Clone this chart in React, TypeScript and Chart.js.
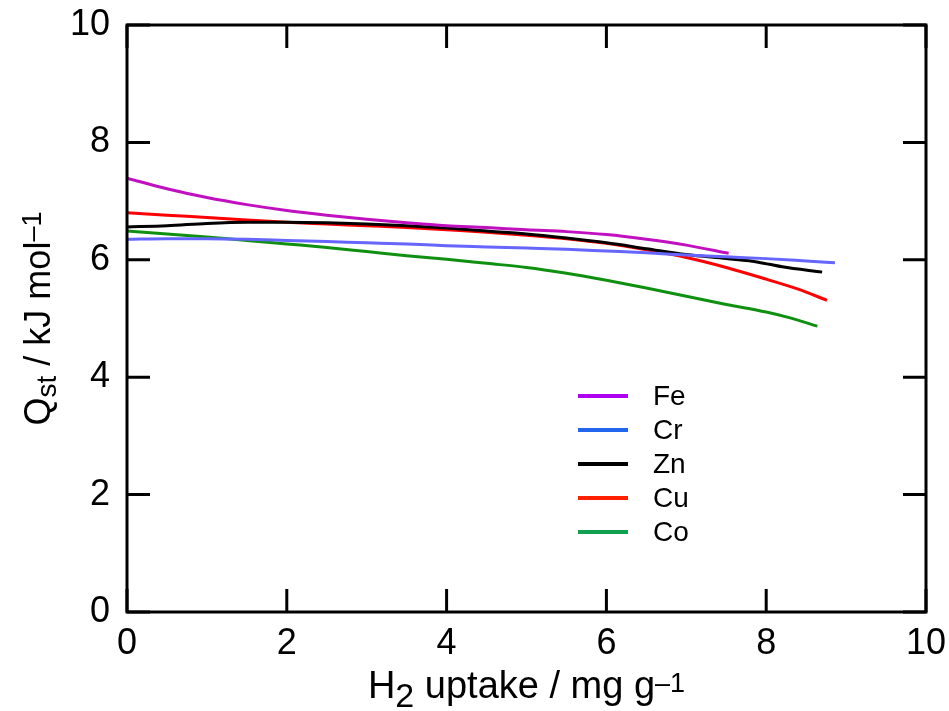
import React, { useEffect, useRef } from 'react';
import { Chart, registerables } from 'chart.js';

Chart.register(...registerables);

const seriesNames = ['Fe', 'Cr', 'Zn', 'Cu', 'Co'];

const feX = [0, 0.5, 1, 1.5, 2, 2.5, 3, 3.5, 4, 4.5, 5, 5.5, 6, 6.5, 7, 7.53];
const feY = [7.39, 7.21, 7.06, 6.94, 6.84, 6.76, 6.69, 6.63, 6.58, 6.55, 6.51, 6.48, 6.43, 6.35, 6.25, 6.11];

const crX = [0, 0.5, 1, 1.5, 2, 2.5, 3, 3.5, 4, 4.5, 5, 5.5, 6, 6.5, 7, 7.5, 8, 8.5, 8.86];
const crY = [6.35, 6.36, 6.36, 6.35, 6.33, 6.31, 6.29, 6.27, 6.24, 6.22, 6.2, 6.18, 6.15, 6.12, 6.08, 6.05, 6.02, 5.98, 5.95];

const znX = [0, 0.5, 1, 1.5, 2, 2.5, 3, 3.5, 4, 4.5, 5, 5.5, 6, 6.5, 7, 7.5, 7.9, 8.2, 8.7];
const znY = [6.56, 6.58, 6.62, 6.64, 6.64, 6.63, 6.61, 6.58, 6.54, 6.49, 6.44, 6.37, 6.29, 6.19, 6.09, 6.02, 5.96, 5.88, 5.79];

const cuX = [0, 0.5, 1, 1.5, 2, 2.5, 3, 3.5, 4, 4.5, 5, 5.5, 6, 6.5, 7, 7.5, 8, 8.4, 8.76];
const cuY = [6.8, 6.76, 6.72, 6.68, 6.64, 6.61, 6.58, 6.55, 6.51, 6.47, 6.42, 6.36, 6.28, 6.17, 6.04, 5.87, 5.67, 5.5, 5.31];

const coX = [0, 0.5, 1, 1.5, 2, 2.5, 3, 3.5, 4, 4.5, 5, 5.5, 6, 6.5, 7, 7.5, 8, 8.3, 8.64];
const coY = [6.49, 6.44, 6.39, 6.33, 6.27, 6.21, 6.14, 6.07, 6.01, 5.94, 5.87, 5.77, 5.65, 5.52, 5.38, 5.24, 5.11, 5.01, 4.87];

const xTicks = [0, 2, 4, 6, 8, 10];
const yTicks = [0, 2, 4, 6, 8, 10];

const lineColors = ['#c010c0', '#6666ff', '#000000', '#ff0000', '#109010'];
const legendColors = ['#b000f0', '#2266ee', '#000000', '#ff2000', '#10a050'];

const FONT = '"Liberation Sans", Arial, sans-serif';

type Run = { text: string; size: number; dy: number };

function drawRuns(ctx: CanvasRenderingContext2D, runs: Run[], cx: number, baseY: number) {
  let total = 0;
  const widths = runs.map((r) => {
    ctx.font = `${r.size}px ${FONT}`;
    const w = ctx.measureText(r.text).width;
    total += w;
    return w;
  });
  let x = cx - total / 2;
  ctx.textAlign = 'left';
  ctx.textBaseline = 'alphabetic';
  runs.forEach((r, i) => {
    ctx.font = `${r.size}px ${FONT}`;
    ctx.fillText(r.text, x, baseY + r.dy);
    x += widths[i];
  });
}

const framePlugin = {
  id: 'framePlugin',
  afterDatasetsDraw(chart: any) {
    const { ctx, chartArea: a, scales } = chart;
    ctx.save();
    ctx.strokeStyle = '#000';
    ctx.lineWidth = 3;
    ctx.lineCap = 'butt';
    ctx.strokeRect(a.left, a.top, a.right - a.left, a.bottom - a.top);
    const L = 23;
    ctx.beginPath();
    for (const v of xTicks) {
      const px = scales.x.getPixelForValue(v);
      ctx.moveTo(px, a.bottom);
      ctx.lineTo(px, a.bottom - L);
      ctx.moveTo(px, a.top);
      ctx.lineTo(px, a.top + L);
    }
    for (const v of yTicks) {
      const py = scales.y.getPixelForValue(v);
      ctx.moveTo(a.left, py);
      ctx.lineTo(a.left + L, py);
      ctx.moveTo(a.right, py);
      ctx.lineTo(a.right - L, py);
    }
    ctx.stroke();

    // legend
    const lx0 = 578;
    const lx1 = 628;
    const ly0 = 396;
    const step = 34;
    ctx.font = `28px ${FONT}`;
    ctx.textBaseline = 'middle';
    ctx.textAlign = 'left';
    seriesNames.forEach((name, i) => {
      const y = ly0 + i * step;
      ctx.strokeStyle = legendColors[i];
      ctx.lineWidth = 4;
      ctx.beginPath();
      ctx.moveTo(lx0, y);
      ctx.lineTo(lx1, y);
      ctx.stroke();
      ctx.fillStyle = '#000';
      ctx.fillText(name, 653, y + 1);
    });

    // axis titles
    ctx.fillStyle = '#000';
    const cx = (a.left + a.right) / 2;
    drawRuns(
      ctx,
      [
        { text: 'H', size: 38, dy: 0 },
        { text: '2', size: 34, dy: 9 },
        { text: ' uptake / mg g', size: 38, dy: 0 },
        { text: '\u20131', size: 27, dy: -6 },
      ],
      cx,
      698
    );
    ctx.save();
    ctx.translate(50, (a.top + a.bottom) / 2);
    ctx.rotate(-Math.PI / 2);
    drawRuns(
      ctx,
      [
        { text: 'Q', size: 36, dy: 0 },
        { text: 'st', size: 28, dy: 6 },
        { text: ' / kJ mol', size: 36, dy: 0 },
        { text: '\u20131', size: 27, dy: -9 },
      ],
      0,
      0
    );
    ctx.restore();
    ctx.restore();
  },
};

function toPoints(xs: number[], ys: number[]) {
  return xs.map((x, i) => ({ x, y: ys[i] }));
}

function zeroPad(s: any) {
  s.paddingTop = 0;
  s.paddingBottom = 0;
  s.paddingLeft = 0;
  s.paddingRight = 0;
}

export default function App() {
  const ref = useRef<HTMLCanvasElement | null>(null);
  useEffect(() => {
    if (!ref.current) return;
    const seriesX = [feX, crX, znX, cuX, coX];
    const seriesY = [feY, crY, znY, cuY, coY];
    const chart = new Chart(ref.current, {
      type: 'scatter',
      data: {
        datasets: seriesNames.map((name, i) => ({
          label: name,
          data: toPoints(seriesX[i], seriesY[i]),
          showLine: true,
          borderColor: lineColors[i],
          backgroundColor: lineColors[i],
          borderWidth: 3,
          pointRadius: 0,
          cubicInterpolationMode: 'monotone' as const,
        })),
      },
      options: {
        animation: false,
        responsive: false,
        devicePixelRatio: 1,
        layout: { padding: { top: 25, right: 23, left: 0, bottom: 0 } },
        plugins: { legend: { display: false }, tooltip: { enabled: false } },
        scales: {
          x: {
            type: 'linear',
            min: 0,
            max: 10,
            afterFit: (s: any) => {
              s.height = 99;
              zeroPad(s);
            },
            afterBuildTicks: (s: any) => {
              s.ticks = xTicks.map((v) => ({ value: v }));
            },
            ticks: { font: { size: 36, family: FONT }, color: '#000', padding: 10, maxRotation: 0 },
            grid: { display: false, drawTicks: false },
            border: { display: false },
          },
          y: {
            type: 'linear',
            min: 0,
            max: 10,
            afterFit: (s: any) => {
              s.width = 127;
              zeroPad(s);
            },
            afterBuildTicks: (s: any) => {
              s.ticks = yTicks.map((v) => ({ value: v }));
            },
            ticks: { font: { size: 36, family: FONT }, color: '#000', padding: 17 },
            grid: { display: false, drawTicks: false },
            border: { display: false },
          },
        },
      },
      plugins: [framePlugin],
    });
    return () => chart.destroy();
  }, []);
  return (
    <div style={{ position: 'absolute', left: 0, top: 0, width: 949, height: 711, background: '#fff' }}>
      <canvas ref={ref} width={949} height={711} style={{ display: 'block' }} />
    </div>
  );
}
